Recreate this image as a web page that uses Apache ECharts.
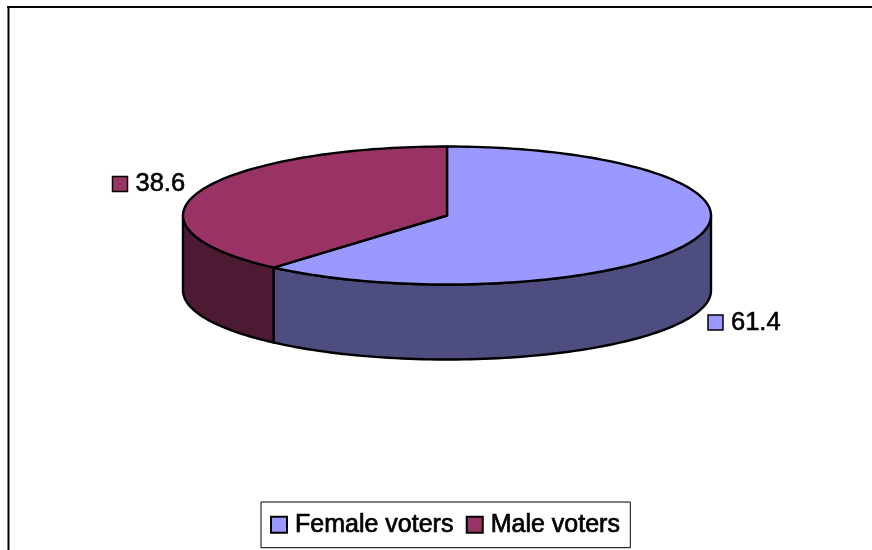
<!DOCTYPE html>
<html><head><meta charset="utf-8">
<style>html,body{margin:0;padding:0;background:#fff}#c{width:872px;height:550px}</style>
<script src="https://cdn.jsdelivr.net/npm/echarts@6/dist/echarts.min.js"></script>
</head><body><div id="c"></div>
<script>
const categories = ['Female voters', 'Male voters'];
const values = [61.4, 38.6];
const valueLabels = ['61.4', '38.6'];
const topColors = ['#9999FF', '#993366'];
const sideColors = ['#4D4D80', '#4D1A33'];
const labelAnchors = [[708, 322.5], [112.5, 184]];

const CX = 447, CY = 215.5, RX = 264, RY = 69, DEPTH = 75;
const total = values.reduce((a, b) => a + b, 0);
const FONT = '"Liberation Sans", Arial, sans-serif';

function pt(deg, dy) {
  const t = deg * Math.PI / 180;
  return [CX + RX * Math.sin(t), CY - RY * Math.cos(t) + (dy || 0)];
}
function arc(a, b, dy) {
  const out = [], n = Math.max(2, Math.ceil(Math.abs(b - a) / 1.5));
  for (let i = 0; i <= n; i++) out.push(pt(a + (b - a) * i / n, dy));
  return out;
}
const lineStyle = (fill) => ({ fill: fill, stroke: '#000', lineWidth: 2.4, lineJoin: 'round' });

const series = categories.map((name, idx) => {
  const start = values.slice(0, idx).reduce((a, b) => a + b, 0) / total * 360;
  return {
    name: name,
    type: 'custom',
    coordinateSystem: 'none',
    data: [[values[idx]]],
    itemStyle: { color: topColors[idx], borderColor: '#000', borderWidth: 1.5 },
    z: 2,
    renderItem: function (params, api) {
      const sweep = api.value(0) / total * 360;
      const end = start + sweep;
      const s0 = Math.max(start, 90), s1 = Math.min(end, 270);
      const children = [];
      if (s1 > s0) {
        const side = arc(s0, s1, 0).concat(arc(s1, s0, DEPTH));
        children.push({ type: 'polygon', shape: { points: side }, style: lineStyle(sideColors[idx]), z2: 1 });
      }
      const top = [[CX, CY]].concat(arc(start, end, 0));
      children.push({ type: 'polygon', shape: { points: top }, style: lineStyle(topColors[idx]), z2: 2 });
      const a = labelAnchors[idx];
      children.push({ type: 'rect', shape: { x: a[0], y: a[1] - 7.5, width: 15, height: 15 },
        style: { fill: topColors[idx], stroke: '#000', lineWidth: 1.5 }, z2: 3 });
      children.push({ type: 'text', x: a[0] + 23, y: a[1],
        style: { text: valueLabels[idx], fill: '#000', font: '25.5px ' + FONT, align: 'left', verticalAlign: 'middle',
          stroke: '#000', lineWidth: 0.6 }, z2: 3 });
      return { type: 'group', children: children };
    }
  };
});

const chart = echarts.init(document.getElementById('c'), null, { renderer: 'canvas' });
chart.setOption({
  animation: false,
  backgroundColor: '#fff',
  graphic: [
    { type: 'line', shape: { x1: 7, y1: 7, x2: 872, y2: 7 }, style: { stroke: '#000', lineWidth: 2 }, z: 0, silent: true },
    { type: 'line', shape: { x1: 8.5, y1: 6, x2: 8.5, y2: 550 }, style: { stroke: '#000', lineWidth: 2 }, z: 0, silent: true }
  ],
  legend: {
    data: categories,
    left: 261, top: 502,
    orient: 'horizontal',
    padding: [10, 10, 10, 9],
    itemGap: 12,
    itemWidth: 16, itemHeight: 16,
    icon: 'rect',
    selectedMode: false,
    backgroundColor: '#fff',
    borderColor: '#000', borderWidth: 1,
    textStyle: { color: '#000', fontSize: 25, fontFamily: FONT, padding: [0, 0, 0, 3],
      textBorderColor: '#000', textBorderWidth: 0.7 }
  },
  series: series
});
</script></body></html>
